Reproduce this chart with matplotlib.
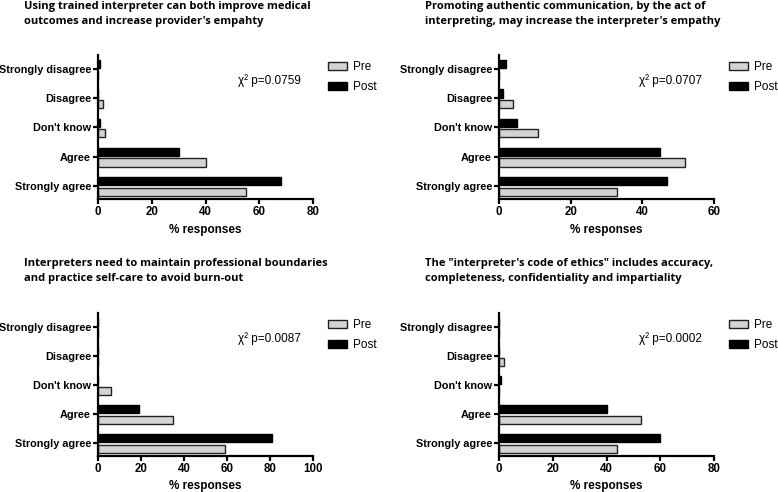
import matplotlib
matplotlib.use("Agg")
import matplotlib.pyplot as plt
import numpy as np

plt.rcParams['font.family'] = ['Liberation Sans', 'DejaVu Sans']

categories = ["Strongly agree", "Agree", "Don't know", "Disagree", "Strongly disagree"]

titles = [
    "Using trained interpreter can both improve medical\noutcomes and increase provider's empahty",
    "Promoting authentic communication, by the act of\ninterpreting, may increase the interpreter's empathy",
    "Interpreters need to maintain professional boundaries\nand practice self-care to avoid burn-out",
    "The \"interpreter's code of ethics\" includes accuracy,\ncompleteness, confidentiality and impartiality",
]
p_values = ["0.0759", "0.0707", "0.0087", "0.0002"]
x_max = [80, 60, 100, 80]

# % responses, order follows categories (Strongly agree -> Strongly disagree)
pre_1 = [55, 40, 2.5, 1.7, 0]
post_1 = [68, 30, 0.7, 0, 0.8]
pre_2 = [33, 52, 11, 4, 0]
post_2 = [47, 45, 5, 1, 2]
pre_3 = [59, 35, 6, 0, 0]
post_3 = [81, 19, 0, 0, 0]
pre_4 = [44, 53, 0, 1.7, 0]
post_4 = [60, 40, 0.7, 0, 0]

pre_all = [pre_1, pre_2, pre_3, pre_4]
post_all = [post_1, post_2, post_3, post_4]

W, H = 778, 492
fig = plt.figure(figsize=(W / 100, H / 100), dpi=100)

# axes boxes in pixels: left, top, right, bottom
boxes = [(98, 55, 313, 199), (499, 55, 714, 199),
         (98, 313, 313, 456), (499, 313, 714, 456)]
title_pos = [(24, 1), (425, 1), (24, 258), (425, 258)]

y = np.arange(len(categories))
bh = 0.28

for i in range(4):
    l, t, r, b = boxes[i]
    ax = fig.add_axes([l / W, 1 - b / H, (r - l) / W, (b - t) / H])
    ax.barh(y - 0.2, pre_all[i], height=bh, color='#d3d3d3', edgecolor='#222222',
            linewidth=1.0, label='Pre')
    ax.barh(y + 0.16, post_all[i], height=bh, color='black', edgecolor='black',
            linewidth=1.0, label='Post')
    ax.set_xlim(0, x_max[i])
    ax.set_ylim(-0.45, 4.48)
    ax.set_xticks(np.arange(0, x_max[i] + 1, 20))
    ax.set_yticks(y)
    ax.set_yticklabels(categories)
    for s in ['top', 'right']:
        ax.spines[s].set_visible(False)
    for s in ['left', 'bottom']:
        ax.spines[s].set_linewidth(1.6)
    ax.tick_params(axis='both', width=1.6, length=3.5, pad=1.5)
    ax.tick_params(axis='x', labelsize=8.3)
    ax.tick_params(axis='y', labelsize=7.8)
    for lab in ax.get_xticklabels() + ax.get_yticklabels():
        lab.set_fontweight('bold')
    ax.set_xlabel('% responses', fontsize=8.5, fontweight='bold', labelpad=4)
    ax.text(0.65, 0.82, "\u03c7\u00b2 p=" + p_values[i], transform=ax.transAxes,
            fontsize=8.5, ha='left', va='center')
    ax.legend(loc='upper left', bbox_to_anchor=(1.07, 0.955), frameon=False,
              fontsize=8.5, handlelength=1.6, handleheight=0.7,
              handletextpad=0.5, labelspacing=0.65, borderpad=0, borderaxespad=0)

    tx, ty = title_pos[i]
    fig.text(tx / W, 1 - ty / H, titles[i], fontsize=8, fontweight='bold',
             family=['Open Sans', 'DejaVu Sans'], ha='left', va='top', linespacing=1.45)

fig.savefig('out.png', dpi=100)
